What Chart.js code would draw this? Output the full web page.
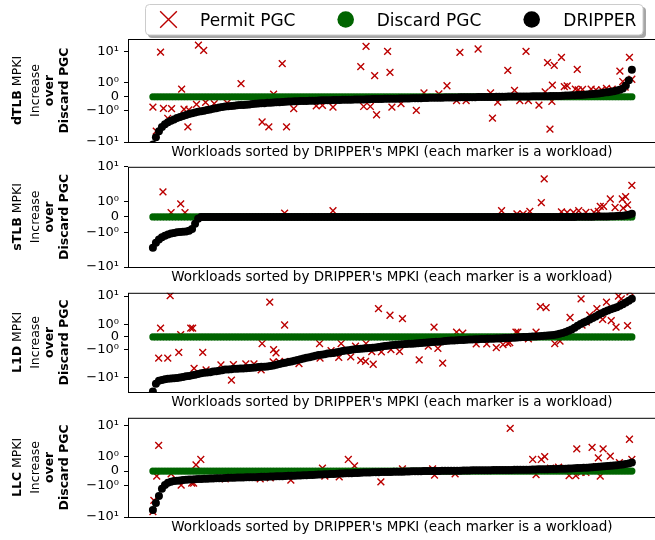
<!DOCTYPE html>
<html>
<head>
  <title>MPKI increase over Discard PGC</title>
  <style>
    html, body {
      margin: 0;
      padding: 0;
      background: #fff;
      overflow: hidden;
    }
    body {
      width: 655px;
      height: 540px;
      position: relative;
    }
    canvas {
      position: absolute;
      left: 0;
    }
  </style>
</head>
<body>
  <canvas id="c0" width="662" height="166" style="top:0px"></canvas>
  <canvas id="c1" width="662" height="137" style="top:154px"></canvas>
  <canvas id="c2" width="662" height="136" style="top:280px"></canvas>
  <canvas id="c3" width="662" height="136" style="top:405px"></canvas>

  <script src="https://cdn.jsdelivr.net/npm/chart.js"></script>
  <script>
    // ---- data: workloads sorted by DRIPPER's MPKI (160 per panel) ----
    const metrics = ['dTLB', 'sTLB', 'L1D', 'LLC'];
    const legendLabels = ['Permit PGC', 'Discard PGC', 'DRIPPER'];
    const xTitle = "Workloads sorted by DRIPPER's MPKI (each marker is a workload)";
    const tickValues = [-10, -1, 0, 1, 10];
    const tickLabels = ['\u221210\u00b9', '\u221210\u2070', '0', '10\u2070', '10\u00b9'];
    const yMin = [-10, -10, -31.4, -10];
    const yMax = [25, 10, 13, 17];

    const dtlbDripper = [
      -12, -7, -4.5, -3.3, -2.7, -2.35, -2.1, -1.9, -1.7, -1.58,
      -1.47, -1.37, -1.28, -1.2, -1.14, -1.09, -1.05, -1.0, -0.96, -0.91,
      -0.86, -0.82, -0.78, -0.74, -0.71, -0.69, -0.66, -0.64, -0.62, -0.6,
      -0.59, -0.57, -0.55, -0.53, -0.51, -0.49, -0.47, -0.46, -0.44, -0.43,
      -0.41, -0.4, -0.39, -0.38, -0.36, -0.35, -0.34, -0.33, -0.32, -0.31,
      -0.3, -0.3, -0.29, -0.28, -0.28, -0.27, -0.26, -0.26, -0.25, -0.25,
      -0.24, -0.23, -0.23, -0.22, -0.22, -0.21, -0.21, -0.2, -0.2, -0.19,
      -0.19, -0.18, -0.18, -0.17, -0.17, -0.16, -0.16, -0.15, -0.15, -0.14,
      -0.14, -0.14, -0.13, -0.13, -0.12, -0.12, -0.11, -0.11, -0.1, -0.1,
      -0.09, -0.09, -0.08, -0.08, -0.07, -0.07, -0.07, -0.06, -0.06, -0.05,
      -0.05, -0.05, -0.04, -0.04, -0.04, -0.03, -0.03, -0.03, -0.02, -0.02,
      -0.02, -0.01, -0.01, -0.01, 0, 0, 0, 0, 0.01, 0.01,
      0.01, 0.01, 0.02, 0.02, 0.02, 0.02, 0.03, 0.03, 0.03, 0.03,
      0.04, 0.04, 0.05, 0.05, 0.06, 0.06, 0.07, 0.08, 0.09, 0.1,
      0.11, 0.12, 0.13, 0.14, 0.16, 0.18, 0.2, 0.22, 0.24, 0.27,
      0.3, 0.33, 0.36, 0.4, 0.44, 0.5, 0.6, 0.8, 1.2, 2.6
    ];
    const stlbDripper = [
      -2.8, -2.0, -1.6, -1.38, -1.25, -1.15, -1.08, -1.04, -1.0, -0.98,
      -0.97, -0.95, -0.9, -0.78, -0.45, -0.12, -0.01, 0, 0, 0,
      0, 0, 0, 0, 0, 0, 0, 0, 0, 0,
      0, 0, 0, 0, 0, 0, 0, 0, 0, 0,
      0, 0, 0, 0, 0, 0, 0, 0, 0, 0,
      0, 0, 0, 0, 0, 0, 0, 0, 0, 0,
      0, 0, 0, 0, 0, 0, 0, 0, 0, 0,
      0, 0, 0, 0, 0, 0, 0, 0, 0, 0,
      0, 0, 0, 0, 0, 0, 0, 0, 0, 0,
      0, 0, 0, 0, 0, 0, 0, 0, 0, 0,
      0, 0, 0, 0, 0, 0, 0, 0, 0, 0,
      0, 0, 0, 0, 0, 0, 0, 0, 0, 0,
      0, 0, 0, 0, 0, 0, 0, 0, 0, 0,
      0, 0, 0, 0, 0, 0, 0, 0, 0, 0,
      0, 0.01, 0.01, 0.01, 0.01, 0.01, 0.01, 0.02, 0.02, 0.02,
      0.03, 0.03, 0.04, 0.05, 0.06, 0.07, 0.08, 0.1, 0.14, 0.2
    ];
    const l1dDripper = [
      -30, -16, -12.6, -11.8, -11.2, -10.8, -10.5, -10.2, -10.0, -9.6,
      -9.2, -8.8, -8.5, -8.1, -7.8, -7.3, -6.8, -6.6, -6.4, -6.3,
      -6.0, -5.8, -5.6, -5.4, -5.1, -5.0, -4.9, -4.8, -4.75, -4.7,
      -4.63, -4.57, -4.5, -4.4, -4.27, -4.15, -4.05, -4.0, -3.93, -3.8,
      -3.62, -3.45, -3.25, -3.07, -2.9, -2.75, -2.62, -2.5, -2.33, -2.2,
      -2.07, -1.95, -1.85, -1.75, -1.66, -1.57, -1.51, -1.45, -1.39, -1.36,
      -1.31, -1.25, -1.19, -1.13, -1.09, -1.05, -1.02, -0.98, -0.96, -0.94,
      -0.92, -0.89, -0.87, -0.86, -0.84, -0.8, -0.76, -0.72, -0.69, -0.66,
      -0.64, -0.62, -0.6, -0.58, -0.56, -0.54, -0.53, -0.51, -0.5, -0.48,
      -0.46, -0.44, -0.42, -0.4, -0.38, -0.37, -0.35, -0.33, -0.31, -0.29,
      -0.28, -0.26, -0.25, -0.24, -0.23, -0.21, -0.2, -0.19, -0.18, -0.17,
      -0.16, -0.15, -0.14, -0.14, -0.13, -0.12, -0.11, -0.09, -0.08, -0.07,
      -0.06, -0.04, -0.02, -0.01, 0, 0.02, 0.03, 0.04, 0.06, 0.08,
      0.1, 0.12, 0.14, 0.16, 0.2, 0.25, 0.32, 0.4, 0.49, 0.6,
      0.74, 0.9, 1.03, 1.16, 1.3, 1.48, 1.67, 1.9, 2.17, 2.48,
      2.8, 3.1, 3.4, 3.7, 4.0, 4.5, 5.1, 5.9, 6.8, 8
    ];
    const llcDripper = [
      -6, -3.6, -2.2, -1.3, -0.98, -0.83, -0.75, -0.71, -0.68, -0.66,
      -0.64, -0.62, -0.6, -0.59, -0.58, -0.57, -0.56, -0.55, -0.54, -0.53,
      -0.52, -0.51, -0.5, -0.5, -0.49, -0.48, -0.48, -0.47, -0.46, -0.46,
      -0.45, -0.44, -0.44, -0.43, -0.43, -0.42, -0.41, -0.41, -0.4, -0.39,
      -0.38, -0.37, -0.37, -0.36, -0.35, -0.34, -0.33, -0.33, -0.32, -0.31,
      -0.3, -0.29, -0.28, -0.27, -0.26, -0.25, -0.24, -0.23, -0.22, -0.21,
      -0.2, -0.19, -0.18, -0.17, -0.16, -0.15, -0.15, -0.14, -0.13, -0.12,
      -0.11, -0.11, -0.1, -0.09, -0.09, -0.08, -0.07, -0.07, -0.06, -0.06,
      -0.05, -0.05, -0.04, -0.04, -0.03, -0.03, -0.02, -0.02, -0.01, -0.01,
      0, 0, 0, 0.01, 0.01, 0.01, 0.02, 0.02, 0.02, 0.03,
      0.03, 0.03, 0.03, 0.04, 0.04, 0.04, 0.05, 0.05, 0.05, 0.05,
      0.06, 0.06, 0.06, 0.07, 0.07, 0.07, 0.07, 0.08, 0.08, 0.08,
      0.09, 0.09, 0.09, 0.1, 0.1, 0.1, 0.11, 0.11, 0.12, 0.12,
      0.13, 0.13, 0.14, 0.14, 0.15, 0.16, 0.16, 0.17, 0.18, 0.19,
      0.2, 0.21, 0.22, 0.23, 0.24, 0.26, 0.27, 0.29, 0.3, 0.32,
      0.34, 0.35, 0.37, 0.4, 0.42, 0.44, 0.47, 0.5, 0.54, 0.6
    ];

    // Discard PGC is the baseline: every workload sits at 0
    const discard = [
      0, 0, 0, 0, 0, 0, 0, 0, 0, 0, 0, 0, 0, 0, 0, 0, 0, 0, 0, 0,
      0, 0, 0, 0, 0, 0, 0, 0, 0, 0, 0, 0, 0, 0, 0, 0, 0, 0, 0, 0,
      0, 0, 0, 0, 0, 0, 0, 0, 0, 0, 0, 0, 0, 0, 0, 0, 0, 0, 0, 0,
      0, 0, 0, 0, 0, 0, 0, 0, 0, 0, 0, 0, 0, 0, 0, 0, 0, 0, 0, 0,
      0, 0, 0, 0, 0, 0, 0, 0, 0, 0, 0, 0, 0, 0, 0, 0, 0, 0, 0, 0,
      0, 0, 0, 0, 0, 0, 0, 0, 0, 0, 0, 0, 0, 0, 0, 0, 0, 0, 0, 0,
      0, 0, 0, 0, 0, 0, 0, 0, 0, 0, 0, 0, 0, 0, 0, 0, 0, 0, 0, 0,
      0, 0, 0, 0, 0, 0, 0, 0, 0, 0, 0, 0, 0, 0, 0, 0, 0, 0, 0, 0
    ];

    // Permit PGC: [workload position in %, MPKI increase]
    const dtlbPermit = [
      [0, -0.74], [0.7, -4.5], [1.6, 9.6], [2.2, -0.83], [3.1, -1.75], [3.9, -0.86], [6, 0.55],
      [6.5, -0.9], [7.3, -3.3], [7.5, -0.95], [9.1, -0.55], [9.5, 16], [10.6, 10.8], [11, -0.41],
      [12.8, -0.5], [15.5, -0.45], [18.4, 0.94], [22.8, -2.3], [24.2, -3.3], [25.2, 0.19], [27, 4.1],
      [27.9, -3.3], [29.4, -0.86], [34.1, -0.65], [35.4, -0.62], [37.6, -0.74], [43.4, 3.3], [44, -0.7],
      [44.5, 14.5], [45.4, -0.7], [46.3, 1.7], [46.7, -1.35], [49, 10], [49.5, 2.15], [49.9, -0.74],
      [51.8, -0.5], [55, -0.98], [56.6, 0.27], [59.7, 0.21], [61.4, 0.79], [63.4, -0.27], [64.1, 9.4],
      [65.4, -0.27], [67.9, 12], [70.5, 0.27], [70.9, -1.72], [72, -0.38], [74.1, 2.5], [75.5, 0.45],
      [76.6, -0.27], [77.9, 10], [78.4, -0.27], [80.6, -0.6], [81.9, 0.35], [82.4, 4.4], [82.9, -3.9],
      [83.3, -0.34], [83.4, 0.84], [83.8, 3.6], [85.3, 6.5], [85.9, 0.72], [86.5, 0.78], [88.2, 0.54],
      [88.6, 2.7], [88.8, 0.5], [89.7, 0.52], [91.5, 0.55], [92.5, 0.5], [93.7, 0.5], [94.7, 0.6],
      [95.9, 0.55], [97.5, 2.35], [98.1, 1.1], [98.6, 0.7], [99.5, 6.5], [100, 1.3]
    ];
    const stlbPermit = [
      [2.1, 1.9], [3.8, 0.28], [5.8, 0.85], [6.7, 0.28], [27.5, 0.25], [37.6, 0.4], [72.8, 0.4],
      [76, 0.19], [77.3, 0.19], [78.7, 0.36], [81.1, 0.93], [81.7, 4.5], [85.3, 0.33], [86.5, 0.3],
      [87.8, 0.3], [88.9, 0.4], [90.4, 0.3], [92.1, 0.3], [93, 0.35], [93.4, 0.68], [94.1, 0.68],
      [95.5, 1.18], [96.5, 0.61], [98, 1.18], [98.2, 0.57], [98.7, 1.37], [99.1, 0.78], [100, 2.9]
    ];
    const l1dPermit = [
      [1.2, -2.0], [1.6, 0.7], [3.1, -2.0], [3.6, 10.3], [5.4, -1.25], [5.8, 0.18], [7.9, 0.7],
      [8.3, 0.7], [8.6, -4.6], [10.4, -1.25], [11.1, -5.2], [14.2, -3.5], [16.4, -12], [16.8, -3.4],
      [19.4, -3.2], [21.1, -3.2], [22.6, -5.2], [22.8, -0.52], [24.4, 6.1], [25.1, -2.7], [25.2, -1.0],
      [25.7, -1.3], [26.4, -2.7], [27.5, 0.95], [27.6, -2.6], [30.5, -3.1], [34.8, -0.52], [34.9, -2.0],
      [37.2, -1.1], [38.8, -1.9], [39.3, -0.52], [41.3, -1.8], [42.3, -0.72], [43.4, -2.4], [44.4, -2.6],
      [44.5, -0.52], [45.7, -1.17], [46, -3.3], [47.1, 3.6], [47.7, -1.2], [49.5, 2.1], [49.7, -1.0],
      [51.5, -1.15], [52.1, 1.6], [55.6, -2.3], [57.5, -0.72], [58.7, 0.78], [59.5, -0.9], [60.5, -3.0],
      [63.4, 0.39], [64.7, 0.3], [65.7, -0.16], [67.5, -0.55], [69.7, -0.55], [71.7, -0.85], [73.1, -0.6],
      [74.1, -0.5], [74.5, -0.45], [75.8, 0.39], [76.2, 0.39], [78.4, -0.15], [80, 0.39], [80.9, 4.2],
      [82.1, 3.9], [83.9, -0.52], [85, -0.33], [87.1, 1.75], [89.4, 7.9], [89.6, 0.95], [90.5, 1.2],
      [91.2, 2.1], [92.7, 3.6], [93.9, 1.5], [94.7, 6.1], [95.7, 1.35], [96.7, 0.78], [97.2, 10],
      [97.8, 7.9], [99.1, 0.9], [99.6, 14]
    ];
    const llcPermit = [
      [0, -6.8], [0.2, -3.0], [0.8, -0.36], [1.2, 2.3], [3.8, -0.2], [5.9, -1.0], [8.1, -0.85],
      [8.5, -0.85], [9, 0.44], [10, 0.82], [15.1, -0.55], [22.4, -0.55], [24.5, -0.48], [28.8, -0.64],
      [35.4, 0.21], [35.9, -0.36], [38.9, -0.41], [40.8, 0.82], [42.1, 0.37], [47.6, -0.77], [52.1, 0.16],
      [58.4, 0.16], [58.8, -0.29], [63.1, -0.2], [74.6, 7.9], [79.3, 0.82], [80, -0.25], [81.1, 0.82],
      [81.8, 1.02], [83, 0.21], [84.7, 0.27], [86.9, -0.32], [88.3, -0.32], [88.5, 1.8], [89.4, -0.1],
      [90.4, -0.1], [91.7, 2.0], [92.3, 0.21], [92.6, 0.32], [93, 0.94], [93.4, -0.36], [94, 1.8],
      [95.5, 1.06], [97.4, 0.6], [99.5, 3.6], [100, 0.82]
    ];

    const dripper = [dtlbDripper, stlbDripper, l1dDripper, llcDripper];
    const permit = [dtlbPermit, stlbPermit, l1dPermit, llcPermit];

    // ---- layout ----
    const padTop = [39, 10, 10, 10];
    const titleLineX = [20.5, 39, 53, 67.5];
    const FONT = "'DejaVu Sans', sans-serif";
    const RED = '#bb0000';
    const GREEN = '#006400';

    Chart.defaults.font.family = FONT;
    Chart.defaults.color = '#000';

    // rank (0..n-1) -> position along the x axis in percent of workloads
    const pct = (i, n) => i * 100 / (n - 1);

    // symmetric log scale, linear between -1 and 1 (like matplotlib symlog)
    const LIN = 0.444;
    function symlog(v) {
      const a = Math.abs(v);
      return a <= 1 ? v * LIN : Math.sign(v) * (LIN + Math.log10(a));
    }
    function symexp(t) {
      const a = Math.abs(t);
      return a <= LIN ? t / LIN : Math.sign(t) * Math.pow(10, a - LIN);
    }

    class SymlogScale extends Chart.Scale {
      determineDataLimits() {
        const { min, max } = this.getMinMax(true);
        this.min = min;
        this.max = max;
      }
      buildTicks() {
        return tickValues.map(v => ({ value: v }));
      }
      configure() {
        super.configure();
        this._lo = symlog(this.min);
        this._hi = symlog(this.max);
      }
      getPixelForValue(v) {
        return this.getPixelForDecimal((symlog(v) - this._lo) / (this._hi - this._lo));
      }
      getValueForPixel(p) {
        return symexp(this._lo + this.getDecimalForPixel(p) * (this._hi - this._lo));
      }
      getLabelForValue(v) {
        return String(v);
      }
    }
    SymlogScale.id = 'symlog';
    SymlogScale.defaults = {};
    Chart.register(SymlogScale);

    // axes box (all four spines)
    const framePlugin = {
      id: 'frame',
      afterDatasetsDraw(chart) {
        const { ctx, chartArea: a } = chart;
        ctx.save();
        ctx.strokeStyle = '#000';
        ctx.lineWidth = 1;
        ctx.strokeRect(a.left + 0.5, a.top + 0.5, a.right - a.left, a.bottom - a.top);
        ctx.restore();
      }
    };

    // rotated multi-line y title with bold parts
    const yTitlePlugin = {
      id: 'ytitle',
      afterDraw(chart, args, opts) {
        const { ctx, chartArea } = chart;
        const cy = (chartArea.top + chartArea.bottom) / 2;
        opts.lines.forEach((segs, li) => {
          ctx.save();
          ctx.translate(titleLineX[li], cy);
          ctx.rotate(-Math.PI / 2);
          ctx.fillStyle = '#000';
          ctx.textBaseline = 'alphabetic';
          let total = 0;
          const widths = segs.map(s => {
            ctx.font = (s.bold ? 'bold ' : '') + '12.5px ' + FONT;
            const w = ctx.measureText(s.text).width;
            total += w;
            return w;
          });
          let x = -total / 2;
          segs.forEach((s, i) => {
            ctx.font = (s.bold ? 'bold ' : '') + '12.5px ' + FONT;
            ctx.fillText(s.text, x, 0);
            x += widths[i];
          });
          ctx.restore();
        });
      }
    };

    // shared legend box above the first panel
    const legendPlugin = {
      id: 'legendBox',
      afterDraw(chart) {
        const ctx = chart.ctx;
        ctx.save();
        ctx.fillStyle = 'rgba(77,77,77,0.5)';
        ctx.beginPath();
        ctx.roundRect(148, 7, 498, 31, 4);
        ctx.fill();
        ctx.fillStyle = '#fff';
        ctx.strokeStyle = '#ccc';
        ctx.lineWidth = 1;
        ctx.beginPath();
        ctx.roundRect(145.5, 4.5, 497.5, 30.5, 4);
        ctx.fill();
        ctx.stroke();

        const markers = [
          { x: 168.5, style: 'crossRot', radius: 11.8, color: RED, bw: 1.4 },
          { x: 345.7, style: 'circle', radius: 8.3, color: GREEN, bw: 0 },
          { x: 531.7, style: 'circle', radius: 8.3, color: '#000', bw: 0 }
        ];
        const textX = [200, 376.7, 563.3];
        markers.forEach((m, i) => {
          ctx.fillStyle = m.color;
          ctx.strokeStyle = m.color;
          ctx.lineWidth = m.bw;
          Chart.helpers.drawPoint(ctx, { pointStyle: m.style, radius: m.radius, rotation: 0, borderWidth: m.bw }, m.x, 19.5);
          ctx.fillStyle = '#000';
          ctx.font = '17px ' + FONT;
          ctx.textBaseline = 'alphabetic';
          ctx.fillText(legendLabels[i], textX[i], 26);
        });
        ctx.restore();
      }
    };

    function makeChart(k) {
      const plugins = [framePlugin, yTitlePlugin];
      if (k === 0) plugins.push(legendPlugin);
      const d = dripper[k];
      return new Chart(document.getElementById('c' + k), {
        type: 'scatter',
        data: {
          datasets: [
            {
              label: legendLabels[2],
              data: d.map((y, i) => ({ x: pct(i, d.length), y: y })),
              pointStyle: 'circle',
              pointRadius: 4,
              backgroundColor: '#000',
              borderColor: '#000',
              borderWidth: 0
            },
            {
              label: legendLabels[1],
              data: discard.map((y, i) => ({ x: pct(i, discard.length), y: y })),
              pointStyle: 'circle',
              pointRadius: 3.6,
              backgroundColor: GREEN,
              borderColor: GREEN,
              borderWidth: 0
            },
            {
              label: legendLabels[0],
              data: permit[k].map(p => ({ x: p[0], y: p[1] })),
              pointStyle: 'crossRot',
              pointRadius: 4.8,
              backgroundColor: RED,
              borderColor: RED,
              borderWidth: 1.4
            }
          ]
        },
        options: {
          responsive: false,
          animation: false,
          events: [],
          layout: { padding: { top: padTop[k], right: 3, left: 0, bottom: 0 } },
          plugins: {
            legend: { display: false },
            tooltip: { enabled: false },
            ytitle: {
              lines: [
                [{ text: metrics[k], bold: true }, { text: ' MPKI', bold: false }],
                [{ text: 'Increase', bold: false }],
                [{ text: 'over', bold: true }],
                [{ text: 'Discard PGC', bold: true }]
              ]
            }
          },
          scales: {
            x: {
              type: 'linear',
              min: -5.2,
              max: 105,
              ticks: { display: false },
              grid: { display: false },
              border: { display: false },
              title: {
                display: true,
                text: xTitle,
                color: '#000',
                font: { size: 13.5 },
                padding: { top: 0, bottom: 5.4 }
              },
              afterFit: s => { s.height = 24; }
            },
            y: {
              type: 'symlog',
              min: yMin[k],
              max: yMax[k],
              ticks: {
                autoSkip: false,
                padding: 5,
                color: '#000',
                font: { size: 13 },
                callback: (v, i) => tickLabels[i]
              },
              grid: { drawOnChartArea: false, drawTicks: true, tickLength: 4, color: '#000' },
              border: { display: false },
              afterFit: s => { s.width = 128; }
            }
          }
        },
        plugins: plugins
      });
    }

    [0, 1, 2, 3].forEach(makeChart);
  </script>
</body>
</html>
